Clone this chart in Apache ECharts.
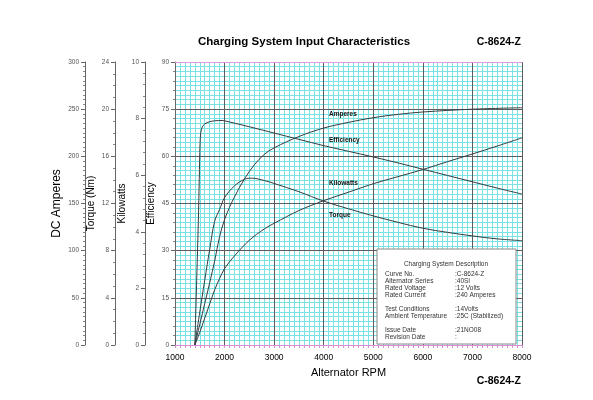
<!DOCTYPE html>
<html><head><meta charset="utf-8">
<script src="https://cdn.jsdelivr.net/npm/echarts@6/dist/echarts.min.js"></script>
<style>html,body{margin:0;padding:0;background:#fff}#c{width:593px;height:400px}</style>
</head><body><div id="c"></div>
<script>
// ---- data ----
const rpmAmps = [1400,1500,1600,1700,1800,1900,2000,2100,2200,2400,2600,2800,3000,3500,4000,4500,5000,5500,6000,7000,8000];
const amps    = [0,22,44,66,89,115,133,146,157,176,191,202,209,221,230,236,241,244.5,247,250,251.5];

const rpmEff  = [1400,1440,1470,1490,1505,1520,1550,1600,1700,1800,1950,2000,2500,3000,3500,4000,4500,5000,5500,6000,6500,7000,7500,8000];
const eff     = [0,22,39,53,64,67.5,69.3,70.3,71,71.3,71.4,71.3,69.4,67.4,65.4,63.4,61.6,59.8,57.9,55.9,53.9,51.9,49.9,48.0];

const rpmTorque = [1400,1500,1600,1700,1800,1900,2000,2200,2400,2550,2800,3000,3500,4000,4500,5000,5500,6000,6500,7000,7500,8000];
const torque    = [0,2.8,5.5,8.1,10.5,11.5,12.5,13.5,14.05,14.15,13.95,13.7,13.0,12.2,11.55,10.95,10.4,9.9,9.55,9.25,9.0,8.85];

const rpmKw = [1400,1500,1600,1700,1800,1900,2000,2200,2500,2800,3000,3500,4000,4500,5000,5500,6000,6500,7000,7500,8000];
const kw    = [0,0.45,0.95,1.45,1.95,2.35,2.7,3.15,3.7,4.1,4.3,4.75,5.1,5.4,5.7,5.95,6.2,6.48,6.75,7.03,7.32];

const seriesNames = ['Amperes','Efficiency','Kilowatts','Torque'];
const titleText = 'Charging System Input Characteristics';
const curveCode = 'C-8624-Z';
const descTitle = 'Charging System Description';
const descRows = [
  ['Curve No.', ':C-8624-Z'],
  ['Alternator Series', ':40SI'],
  ['Rated Voltage', ':12 Volts'],
  ['Rated Current', ':240 Amperes'],
  null,
  ['Test Conditions', ':14Volts'],
  ['Ambient Temperature', ':25C (Stabilized)'],
  null,
  ['Issue Date', ':21NO08'],
  ['Revision Date', ':']
];

// ---- chart ----
const FONT = '"Liberation Sans", Arial, sans-serif';
const pair = (xs, ys) => xs.map((x, i) => [x, ys[i]]);
const chart = echarts.init(document.getElementById('c'), null, {renderer: 'canvas'});

function sideAxis(o) {
  return {
    type: 'value', position: 'left', offset: o.offset,
    min: o.min, max: o.max, interval: o.interval,
    name: o.name, nameLocation: 'middle', nameGap: o.gap, nameMoveOverlap: false,
    nameTextStyle: {fontSize: o.nameSize, color: '#000', fontFamily: FONT},
    axisLine: {show: true, onZero: false, lineStyle: {color: '#666', width: 1}},
    axisTick: {show: true, length: 4, lineStyle: {color: '#666'}},
    minorTick: {show: true, splitNumber: o.minor, length: 2, lineStyle: {color: '#888'}},
    axisLabel: {fontSize: 6.5, color: '#555', margin: 6, fontFamily: FONT},
    splitLine: {show: !!o.split, lineStyle: {color: '#5c5c5c', width: 1}},
    z: 2
  };
}

const lineStyle = {color: '#363c40', width: 1};
function mkSeries(name, yIdx, xs, ys) {
  return {type: 'line', name, yAxisIndex: yIdx, xAxisIndex: 0, data: pair(xs, ys),
    symbol: 'none', smooth: 0.35, lineStyle, z: 5, animation: false};
}

const descChildren = [
  {type: 'rect', z: 100, shape: {x: 377, y: 249, width: 139, height: 95},
   style: {fill: '#fff', stroke: '#8a8a8a', lineWidth: 1}},
  {type: 'text', z: 101, x: 446, y: 264, style: {text: descTitle, font: '6.5px ' + FONT, fill: '#333', align: 'center', verticalAlign: 'middle'}}
];
descRows.forEach((r, i) => {
  if (!r) return;
  const y = 274 + i * 7;
  descChildren.push({type: 'text', z: 101, x: 385, y, style: {text: r[0], font: '6.5px ' + FONT, fill: '#333', verticalAlign: 'middle'}});
  descChildren.push({type: 'text', z: 101, x: 455, y, style: {text: r[1], font: '6.5px ' + FONT, fill: '#333', verticalAlign: 'middle'}});
});

const labelPos = [[329, 114.5], [329, 140.5], [329, 183.5], [329, 215.5]];

chart.setOption({
  animation: false,
  backgroundColor: '#fff',
  grid: {left: 175, right: 71, top: 62, bottom: 55, containLabel: false},
  xAxis: [
    {type: 'value', position: 'bottom', min: 1000, max: 8000, interval: 1000,
     name: 'Alternator RPM', nameLocation: 'middle', nameGap: 22, nameMoveOverlap: false,
     nameTextStyle: {fontSize: 11, color: '#000', fontFamily: FONT},
     axisLine: {show: true, onZero: false, lineStyle: {color: '#d68fd6', width: 1}},
     axisTick: {show: true, length: 3, inside: false, lineStyle: {color: '#d68fd6'}},
     minorTick: {show: true, splitNumber: 10, length: 3, lineStyle: {color: '#d68fd6'}},
     axisLabel: {fontSize: 8.5, color: '#000', margin: 8, fontFamily: FONT, formatter: v => String(v)},
     splitLine: {show: true, lineStyle: {color: '#5c5c5c', width: 1}},
     z: 2},
    {type: 'value', position: 'top', min: 1000, max: 8000, interval: 1000,
     axisLine: {show: true, onZero: false, lineStyle: {color: '#dc9bdc', width: 1}},
     axisTick: {show: false}, axisLabel: {show: false}, splitLine: {show: false}, z: 2},
    {type: 'value', position: 'bottom', min: 1000, max: 8000, interval: 1000,
     axisLine: {show: false}, axisTick: {show: false}, axisLabel: {show: false},
     splitLine: {show: false},
     minorTick: {show: false, splitNumber: 10},
     minorSplitLine: {show: true, lineStyle: {color: '#7ae2e2', width: 1}}, z: 1}
  ],
  yAxis: [
    sideAxis({name: 'Efficiency', offset: 0, min: 0, max: 90, interval: 15, gap: 19, nameSize: 10, minor: 5, split: true}),
    sideAxis({name: 'Kilowatts', offset: 30, min: 0, max: 10, interval: 2, gap: 18, nameSize: 10, minor: 5}),
    sideAxis({name: 'Torque (Nm)', offset: 60, min: 0, max: 24, interval: 4, gap: 19, nameSize: 10, minor: 4}),
    sideAxis({name: 'DC Amperes', offset: 90, min: 0, max: 300, interval: 50, gap: 22, nameSize: 12, minor: 10}),
    {type: 'value', position: 'right', min: 0, max: 90, interval: 15,
     axisLine: {show: false}, axisTick: {show: false}, axisLabel: {show: false},
     splitLine: {show: false},
     minorTick: {show: false, splitNumber: 10},
     minorSplitLine: {show: true, lineStyle: {color: '#7ae2e2', width: 1}}, z: 1}
  ],
  series: [
    mkSeries(seriesNames[0], 3, rpmAmps, amps),
    mkSeries(seriesNames[1], 0, rpmEff, eff),
    mkSeries(seriesNames[2], 1, rpmKw, kw),
    mkSeries(seriesNames[3], 2, rpmTorque, torque)
  ],
  graphic: [
    {type: 'text', x: 304, y: 42, z: 100, style: {text: titleText, font: 'bold 11.5px ' + FONT, fill: '#000', align: 'center', verticalAlign: 'middle'}},
    {type: 'text', x: 521, y: 42, z: 100, style: {text: curveCode, font: 'bold 10.5px ' + FONT, fill: '#000', align: 'right', verticalAlign: 'middle'}},
    {type: 'text', x: 521, y: 381, z: 100, style: {text: curveCode, font: 'bold 10.5px ' + FONT, fill: '#000', align: 'right', verticalAlign: 'middle'}},
    ...seriesNames.map((n, i) => ({type: 'text', x: labelPos[i][0], y: labelPos[i][1], z: 100,
      style: {text: n, font: 'bold 6.5px ' + FONT, fill: '#111', verticalAlign: 'middle'}})),
    ...descChildren
  ]
});
</script></body></html>
